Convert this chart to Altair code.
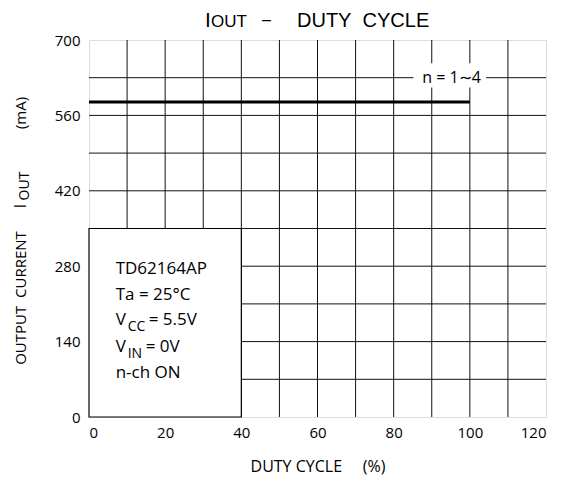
import altair as alt
import pandas as pd

FONT = "Open Sans"
TFONT = "Liberation Sans"
NB = "\u00a0"

# ---- data ----
line_x = [0, 100]
line_y = [585, 585]

x_grid = [10, 20, 30, 40, 50, 60, 70, 80, 90, 100, 110]
y_grid = [70, 140, 210, 280, 350, 420, 490, 560, 630]
x_ticks = [0, 20, 40, 60, 80, 100, 120]
y_ticks = [0, 140, 280, 420, 560, 700]

box_x = [0]
box_x2 = [40]
box_y = [0]
box_y2 = [350]

label_text = ["n = 1∼4"]
label_x = [95.2]
label_y = [630]

cond_lines = ["TD62164AP", "Ta = 25°C", "V", "V", "n-ch ON"]
cond_y = [265, 217, 171, 121, 72]
sub_text = ["CC", "IN"]
sub_y = [171, 121]
rest_text = ["= 5.5V", "= 0V"]

xs = alt.Scale(domain=[0, 120], nice=False)
ys = alt.Scale(domain=[0, 700], nice=False)

W, H = 457, 377

base = alt.Chart(pd.DataFrame({"a": [0]}))

vgrid = alt.Chart(pd.DataFrame({"x": x_grid})).mark_rule(color="#111", strokeWidth=1).encode(
    x=alt.X("x:Q", scale=xs, axis=alt.Axis(values=x_ticks, grid=False, ticks=False, domain=False,
                                            labelFont=FONT, labelFontSize=15, labelPadding=8, labelColor="#000",
                                            title=f"DUTY{NB}CYCLE{NB}{NB}{NB}{NB}{NB}(%)", titleFont=FONT,
                                            titleFontSize=16, titleFontWeight="normal", titlePadding=18,
                                            titleColor="#000")),
    y=alt.value(0), y2=alt.value(H))

hgrid = alt.Chart(pd.DataFrame({"y": y_grid})).mark_rule(color="#111", strokeWidth=1).encode(
    y=alt.Y("y:Q", scale=ys, axis=alt.Axis(values=y_ticks, grid=False, ticks=False, domain=False,
                                            labelFont=FONT, labelFontSize=15, labelPadding=9, labelColor="#000",
                                            title=None)),
    x=alt.value(0), x2=alt.value(W))

box = alt.Chart(pd.DataFrame({"x": box_x, "x2": box_x2, "y": box_y, "y2": box_y2})).mark_rect(
    fill="white", stroke="black", strokeWidth=1.2).encode(
    x=alt.X("x:Q", scale=xs), x2="x2", y=alt.Y("y:Q", scale=ys), y2="y2")

lab_bg = alt.Chart(pd.DataFrame({"x": [85.2], "x2": [104.3], "y": [612], "y2": [657]})).mark_rect(
    fill="white").encode(x=alt.X("x:Q", scale=xs), x2="x2", y=alt.Y("y:Q", scale=ys), y2="y2")

line = alt.Chart(pd.DataFrame({"x": line_x, "y": line_y})).mark_line(color="black", strokeWidth=3).encode(
    x=alt.X("x:Q", scale=xs), y=alt.Y("y:Q", scale=ys))

label = alt.Chart(pd.DataFrame({"t": label_text, "x": label_x, "y": label_y})).mark_text(
    font=FONT, fontSize=16, align="center", baseline="middle", color="black").encode(
    x=alt.X("x:Q", scale=xs), y=alt.Y("y:Q", scale=ys), text="t:N")

cond = alt.Chart(pd.DataFrame({"t": cond_lines, "y": cond_y, "x": [7] * 5})).mark_text(
    font=FONT, fontSize=17, align="left", baseline="alphabetic", color="black").encode(
    x=alt.X("x:Q", scale=xs), y=alt.Y("y:Q", scale=ys), text="t:N")

sub = alt.Chart(pd.DataFrame({"t": sub_text, "y": sub_y, "x": [7] * 2})).mark_text(
    font=FONT, fontSize=14, align="left", baseline="alphabetic", dx=12, dy=6, color="black").encode(
    x=alt.X("x:Q", scale=xs), y=alt.Y("y:Q", scale=ys), text="t:N")

rest = alt.Chart(pd.DataFrame({"t": rest_text, "y": sub_y, "x": [7] * 2})).encode(
    x=alt.X("x:Q", scale=xs), y=alt.Y("y:Q", scale=ys), text="t:N")
rest_cc = rest.transform_filter("datum.t == '= 5.5V'").mark_text(
    font=FONT, fontSize=17, align="left", baseline="alphabetic", color="black", dx=33)
rest_in = rest.transform_filter("datum.t == '= 0V'").mark_text(
    font=FONT, fontSize=17, align="left", baseline="alphabetic", color="black", dx=30)

# title pieces (pixel offsets relative to plot area)
t_I = base.mark_text(font=TFONT, fontSize=21, align="left", baseline="alphabetic", color="black").encode(
    x=alt.value(116), y=alt.value(-13), text=alt.value("I"))
t_OUT = base.mark_text(font=TFONT, fontSize=17, align="left", baseline="alphabetic", color="black").encode(
    x=alt.value(122), y=alt.value(-13), text=alt.value("OUT"))
t_dash = base.mark_text(font=TFONT, fontSize=16, align="left", baseline="alphabetic", color="black").encode(
    x=alt.value(173), y=alt.value(-15), text=alt.value("–"))
t_rest = base.mark_text(font=TFONT, fontSize=20, align="left", baseline="alphabetic", color="black").encode(
    x=alt.value(208), y=alt.value(-13), text=alt.value(f"DUTY{NB}{NB}CYCLE"))

# y axis title pieces
ya = base.mark_text(font=FONT, fontSize=15, angle=270, align="center", baseline="middle", color="black").encode(
    x=alt.value(-68), y=alt.value(258), text=alt.value(f"OUTPUT{NB}{NB}CURRENT"))
yI = base.mark_text(font=FONT, fontSize=17, angle=270, align="center", baseline="middle", color="black").encode(
    x=alt.value(-68), y=alt.value(166), text=alt.value("I"))
yOUT = base.mark_text(font=FONT, fontSize=14, angle=270, align="center", baseline="middle", color="black").encode(
    x=alt.value(-64), y=alt.value(146), text=alt.value("OUT"))
ymA = base.mark_text(font=FONT, fontSize=15, angle=270, align="center", baseline="middle", color="black").encode(
    x=alt.value(-68), y=alt.value(73), text=alt.value("(mA)"))

chart = alt.layer(vgrid, hgrid, box, lab_bg, line, label, cond, sub, rest_cc, rest_in,
                  t_I, t_OUT, t_dash, t_rest, ya, yI, yOUT, ymA).properties(
    width=W, height=H,
    autosize=alt.AutoSizeParams(type="none"),
    padding={"left": 81, "top": 32, "right": 20, "bottom": 60},
).configure_view(stroke="black", strokeWidth=1.5).configure(background="white")

chart.save("out.html", embed_options={"renderer": "svg", "actions": False})
